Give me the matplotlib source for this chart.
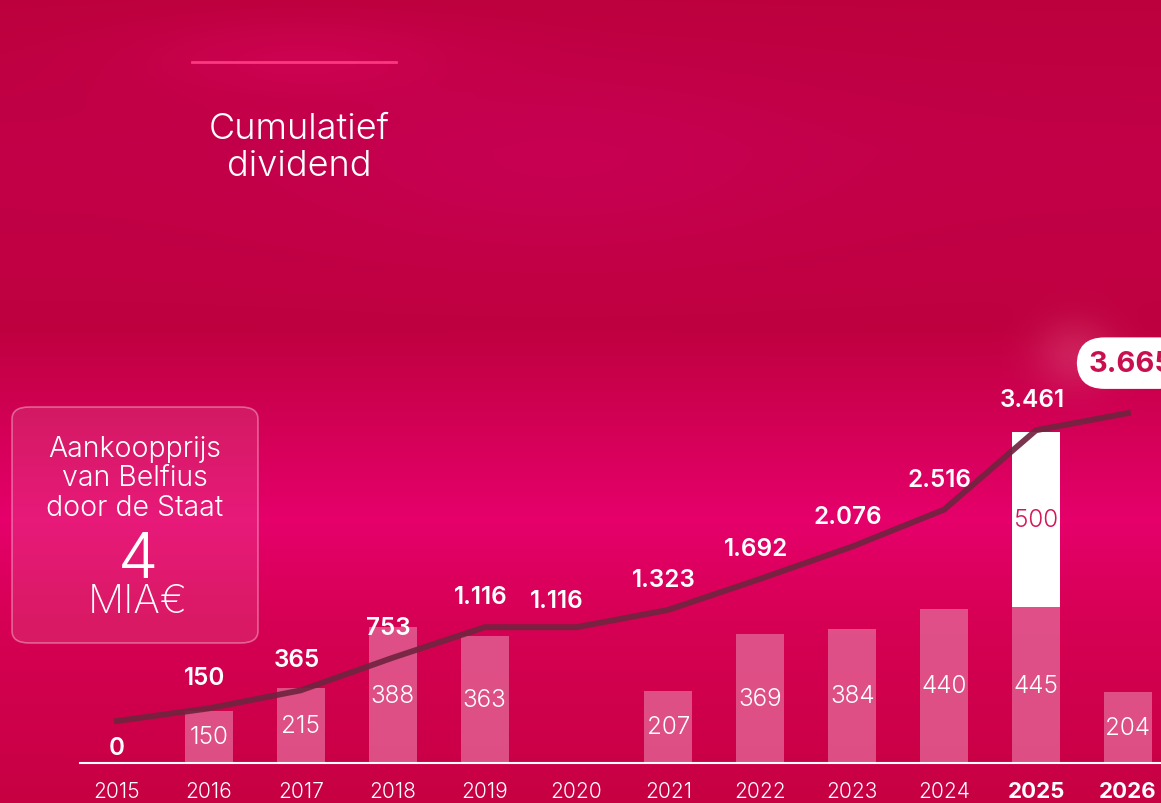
import numpy as np
import matplotlib
matplotlib.use("Agg")
import matplotlib.pyplot as plt
from matplotlib.patches import FancyBboxPatch

# ---------------- data ----------------
years = [2015, 2016, 2017, 2018, 2019, 2020, 2021, 2022, 2023, 2024, 2025, 2026]
year_labels = [str(y) for y in years]
bold_years = [2025, 2026]
dividend = [0, 150, 215, 388, 363, 0, 207, 369, 384, 440, 445, 204]
extra_2025 = [0, 0, 0, 0, 0, 0, 0, 0, 0, 0, 500, 0]
cumulative = [0, 150, 365, 753, 1116, 1116, 1323, 1692, 2076, 2516, 3461, 3665]
cumulative_labels = ["0", "150", "365", "753", "1.116", "1.116", "1.323",
                     "1.692", "2.076", "2.516", "3.461", "3.665"]
title_text = "Cumulatief\ndividend"
box_text = "Aankoopprijs\nvan Belfius\ndoor de Staat"
box_value = "4"
box_unit = "MIA€"

FONT = "Inter"
W, H = 1161, 804
fig = plt.figure(figsize=(W / 100, H / 100), dpi=100)

# ---------------- background ----------------
bg = fig.add_axes([0, 0, 1, 1])
bg.set_axis_off()
yy, xx = np.mgrid[0:H, 0:W]
stops_y = np.array([0, 150, 330, 430, 520, 620, 804])
stops_c = np.array([
    [0.74, 0.00, 0.24],
    [0.76, 0.00, 0.28],
    [0.75, 0.00, 0.25],
    [0.83, 0.00, 0.34],
    [0.90, 0.00, 0.42],
    [0.84, 0.00, 0.33],
    [0.78, 0.00, 0.26],
])
img = np.zeros((H, W, 3))
for c in range(3):
    img[:, :, c] = np.interp(yy, stops_y, stops_c[:, c])

def glow(cx, cy, sx, sy, col, amp):
    g = np.exp(-(((xx - cx) / sx) ** 2 + ((yy - cy) / sy) ** 2))
    for c in range(3):
        img[:, :, c] = img[:, :, c] * (1 - amp * g) + col[c] * amp * g

glow(560, 160, 260, 90, [0.80, 0.00, 0.36], 0.55)
glow(300, 60, 160, 40, [0.86, 0.02, 0.38], 0.45)
glow(1075, 355, 40, 35, [0.88, 0.35, 0.52], 0.35)
img = np.clip(img, 0, 1)
bg.imshow(img, extent=[0, 1, 0, 1], aspect="auto", transform=bg.transAxes)
bg.set_xlim(0, 1)
bg.set_ylim(0, 1)

def fx(x):
    return x / W

def fy(y):
    return 1 - y / H

# ---------------- main axes ----------------
x_first, x_spacing = 117, 91.9
ax_left = 80
base_y = 764
ax = fig.add_axes([fx(ax_left), fy(base_y), 1 - fx(ax_left), base_y / H])
ax.patch.set_alpha(0)
x0 = years[0] - (x_first - ax_left) / x_spacing
x1 = years[-1] + (W - (x_first + 11 * x_spacing)) / x_spacing
ax.set_xlim(x0, x1)
bar_scale = 0.35
ax.set_ylim(0, base_y / bar_scale)

bar_w = 48 / x_spacing
ax.bar(years, dividend, width=bar_w, color="#E46A9A", alpha=0.75,
       edgecolor="none", zorder=2)
ax.bar(years, extra_2025, bottom=dividend, width=bar_w, color="white",
       edgecolor="none", zorder=2)

for yr, v in zip(years, dividend):
    if v > 0:
        ax.text(yr, v / 2, str(v), ha="center", va="center", color="white",
                fontsize=17.5, family=FONT, fontweight=300, zorder=5)
for yr, v, b in zip(years, extra_2025, dividend):
    if v > 0:
        ax.text(yr, b + v / 2, str(v), ha="center", va="center",
                color="#D2175A", fontsize=17.5, family=FONT,
                fontweight=300, zorder=5)

for s in ["top", "right", "left"]:
    ax.spines[s].set_visible(False)
ax.spines["bottom"].set_color("white")
ax.spines["bottom"].set_linewidth(1.5)
ax.set_yticks([])
ax.set_xticks(years)
ax.set_xticklabels(year_labels)
ax.tick_params(axis="x", length=0, pad=13, colors="white")
for lbl, yr in zip(ax.get_xticklabels(), years):
    lbl.set_family(FONT)
    lbl.set_fontsize(15)
    if yr in bold_years:
        lbl.set_fontweight(700)
        lbl.set_fontsize(16)
    else:
        lbl.set_fontweight(300)

# ---------------- cumulative line ----------------
ax2 = ax.twinx()
ax2.set_axis_off()
line_scale = 0.084
line_zero = 42
ax2.set_ylim(-line_zero / line_scale, (base_y - line_zero) / line_scale)
ax2.plot(years, cumulative, color="#70243F", lw=4.2, alpha=0.92,
         solid_joinstyle="miter", zorder=4)

for i, (yr, v, lab) in enumerate(zip(years, cumulative, cumulative_labels)):
    if i == len(years) - 1:
        ax2.annotate(lab, (yr, v), xytext=(-28, 36), textcoords="offset points",
                     ha="left", va="center", color="#C8104F", fontsize=21,
                     family=FONT, fontweight=700, zorder=7,
                     annotation_clip=False,
                     bbox=dict(boxstyle="round,pad=0.42,rounding_size=0.95",
                               fc="white", ec="none"))
        continue
    if i == 0:
        off = (0, -19)
    elif yr == 2020:
        off = (-14, 19)
    else:
        off = (-3, 22)
    ax2.annotate(lab, (yr, v), xytext=off, textcoords="offset points",
                 ha="center", va="center", color="white", fontsize=17.5,
                 family=FONT, fontweight=600, zorder=7)

# ---------------- title & top line ----------------
fig.add_artist(plt.Line2D([fx(192), fx(396)], [fy(63), fy(63)],
                          color="#FF3F86", lw=2, alpha=0.9,
                          transform=fig.transFigure))
fig.text(fx(299), fy(148), title_text, ha="center", va="center",
         color="white", fontsize=26, family=FONT, fontweight=300,
         linespacing=1.15)

# ---------------- purchase box ----------------
box = FancyBboxPatch((fx(12), fy(644)), fx(246), (644 - 408) / H,
                     boxstyle="round,pad=0,rounding_size=0.015",
                     transform=fig.transFigure, facecolor="white",
                     alpha=0.10, edgecolor="none")
fig.add_artist(box)
box_edge = FancyBboxPatch((fx(12), fy(644)), fx(246), (644 - 408) / H,
                          boxstyle="round,pad=0,rounding_size=0.015",
                          transform=fig.transFigure, facecolor="none",
                          edgecolor=(1, 1, 1, 0.35), lw=1.2)
fig.add_artist(box_edge)
fig.text(fx(135), fy(479), box_text, ha="center", va="center", color="white",
         fontsize=20.5, family=FONT, fontweight=300, linespacing=1.12)
fig.text(fx(138), fy(562), box_value, ha="center", va="center", color="white",
         fontsize=46, family=FONT, fontweight=300)
fig.text(fx(138), fy(603), box_unit, ha="center", va="center", color="white",
         fontsize=29, family=FONT, fontweight=200)

fig.savefig("out.png", dpi=100)
